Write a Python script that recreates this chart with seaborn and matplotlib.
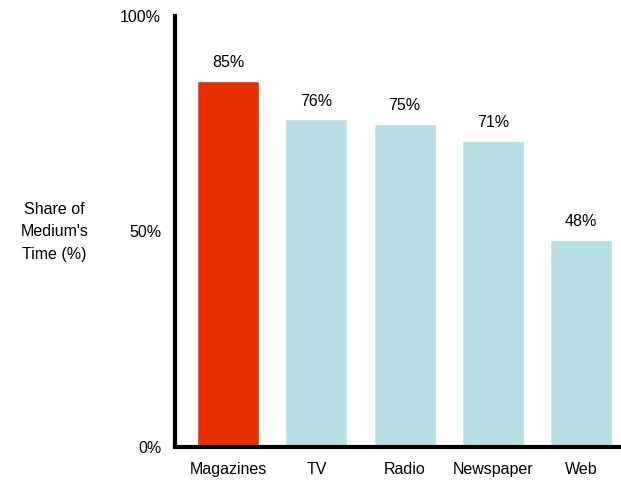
import matplotlib
matplotlib.use("Agg")
import matplotlib.pyplot as plt
import seaborn as sns
import pandas as pd

categories = ["Magazines", "TV", "Radio", "Newspaper", "Web"]
shares = [85, 76, 75, 71, 48]
value_labels = ["85%", "76%", "75%", "71%", "48%"]
y_ticks = [0, 50, 100]
y_tick_labels = ["0%", "50%", "100%"]

RED = "#E63000"
BLUE = "#B8DFE3"

df = pd.DataFrame({"medium": categories, "share": shares})
palette = {c: (RED if c == "Magazines" else BLUE) for c in categories}

sns.set_style("white")
plt.rcParams["font.family"] = ["Liberation Sans", "DejaVu Sans"]
plt.rcParams["text.color"] = "black"
plt.rcParams["xtick.color"] = "black"
plt.rcParams["ytick.color"] = "black"

fig = plt.figure(figsize=(6.21, 4.83), dpi=100)
ax = fig.add_axes([0.282, 0.075, 0.718, 0.892])

sns.barplot(data=df, x="medium", y="share", hue="medium", palette=palette,
            legend=False, width=0.7, saturation=1, ax=ax)

for i, (v, lab) in enumerate(zip(shares, value_labels)):
    ax.text(i, v + 2.5, lab, ha="center", va="bottom", fontsize=11.5)

ax.set_xlim(-0.6, 4.45)
ax.set_ylim(0, 100)
ax.set_yticks(y_ticks)
ax.set_yticklabels(y_tick_labels)
ax.tick_params(axis="both", length=0, labelsize=11.5)
ax.tick_params(axis="y", pad=10)
ax.tick_params(axis="x", pad=11)
ax.set_xlabel("")
ax.set_ylabel("")

for side in ["top", "right"]:
    ax.spines[side].set_visible(False)
for side in ["left", "bottom"]:
    ax.spines[side].set_color("black")
    ax.spines[side].set_linewidth(3)

fig.text(0.088, 0.52, "Share of\nMedium's\nTime (%)", ha="center", va="center",
         fontsize=11.5, linespacing=1.6)

fig.savefig("out.png", dpi=100)
